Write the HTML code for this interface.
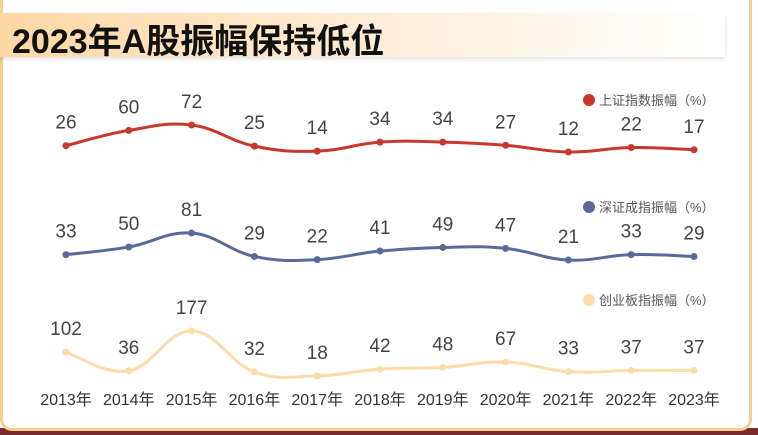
<!DOCTYPE html>
<html><head><meta charset="utf-8"><style>
body{margin:0;width:758px;height:435px;overflow:hidden;background:#fff;font-family:"Liberation Sans","Noto Sans CJK SC",sans-serif}
#bottom{position:absolute;left:0;top:428px;width:758px;height:7px;background:#7a2a2a}
#card{position:absolute;left:0;top:-10px;width:752px;height:441px;background:#fff;border:3px solid #f2cf8e;border-radius:0 0 12px 12px;box-sizing:border-box}
#banner{position:absolute;left:0;top:13px;width:725px;height:44px;background:linear-gradient(90deg,#fdd7a4 0%,#feecd6 50%,#fff 100%);box-shadow:0 2px 4px rgba(0,0,0,0.12)}
#title{position:absolute;left:12px;top:14px;font-size:34px;font-weight:bold;color:#111;font-family:"Liberation Sans","Noto Sans CJK SC",sans-serif}
svg{position:absolute;left:0;top:0}
</style></head><body>
<div id="bottom"></div>
<div id="card"></div>
<div id="banner"></div>
<div id="title">2023年A股振幅保持低位</div>
<svg id="chart" width="758" height="435"></svg>
<script>
const years=["2013年","2014年","2015年","2016年","2017年","2018年","2019年","2020年","2021年","2022年","2023年"];
const shValues=[26,60,72,25,14,34,34,27,12,22,17];
const szValues=[33,50,81,29,22,41,49,47,21,33,29];
const cyValues=[102,36,177,32,18,42,48,67,33,37,37];
const seriesNames=["上证指数振幅（%）","深证成指振幅（%）","创业板指振幅（%）"];
const svg=document.getElementById('chart');
const NS='http://www.w3.org/2000/svg';
function x(i){return 66+i*62.8;}
const series=[
 {v:shValues,color:'#c8372d',zero:157.4,k:0.45,ly:100,name:'sh'},
 {v:szValues,color:'#586a99',zero:269.5,k:0.45,ly:207,name:'sz'},
 {v:cyValues,color:'#fddcaa',zero:381,k:0.283,ly:300,name:'cy'}];
function mk(t,a){const e=document.createElementNS(NS,t);for(const k in a)e.setAttribute(k,a[k]);svg.appendChild(e);return e;}
series.forEach((s,si)=>{
 const pts=s.v.map((v,i)=>[x(i),s.zero-v*s.k]);
 let d='M'+pts[0][0]+','+pts[0][1];
 for(let i=0;i<pts.length-1;i++){
  const p0=pts[Math.max(i-1,0)],p1=pts[i],p2=pts[i+1],p3=pts[Math.min(i+2,pts.length-1)];
  const t=0.2;
  d+=` C${p1[0]+(p2[0]-p0[0])*t},${p1[1]+(p2[1]-p0[1])*t} ${p2[0]-(p3[0]-p1[0])*t},${p2[1]-(p3[1]-p1[1])*t} ${p2[0]},${p2[1]}`;
 }
 const path=mk('path',{d:d,fill:'none',stroke:s.color,'stroke-width':3});
 
 
 pts.forEach((p,i)=>{
  const c=mk('circle',{cx:p[0],cy:p[1],r:3.5,fill:s.color});
  
  
  const t=mk('text',{x:p[0],y:p[1]-17,'text-anchor':'middle','font-size':19,fill:'#444'});
  t.textContent=s.v[i];
  
  
 });
 const ld=mk('circle',{cx:589,cy:s.ly,r:6,fill:s.color});
 
 
 const lt=mk('text',{x:599,y:s.ly+5,'font-size':13,fill:'#555'});
 lt.textContent=seriesNames[si];
 
 
});
years.forEach((y,i)=>{
 const t=mk('text',{x:x(i),y:405,'text-anchor':'middle','font-size':16,fill:'#333'});
 t.textContent=y;
 
 
});
</script>
</body></html>
